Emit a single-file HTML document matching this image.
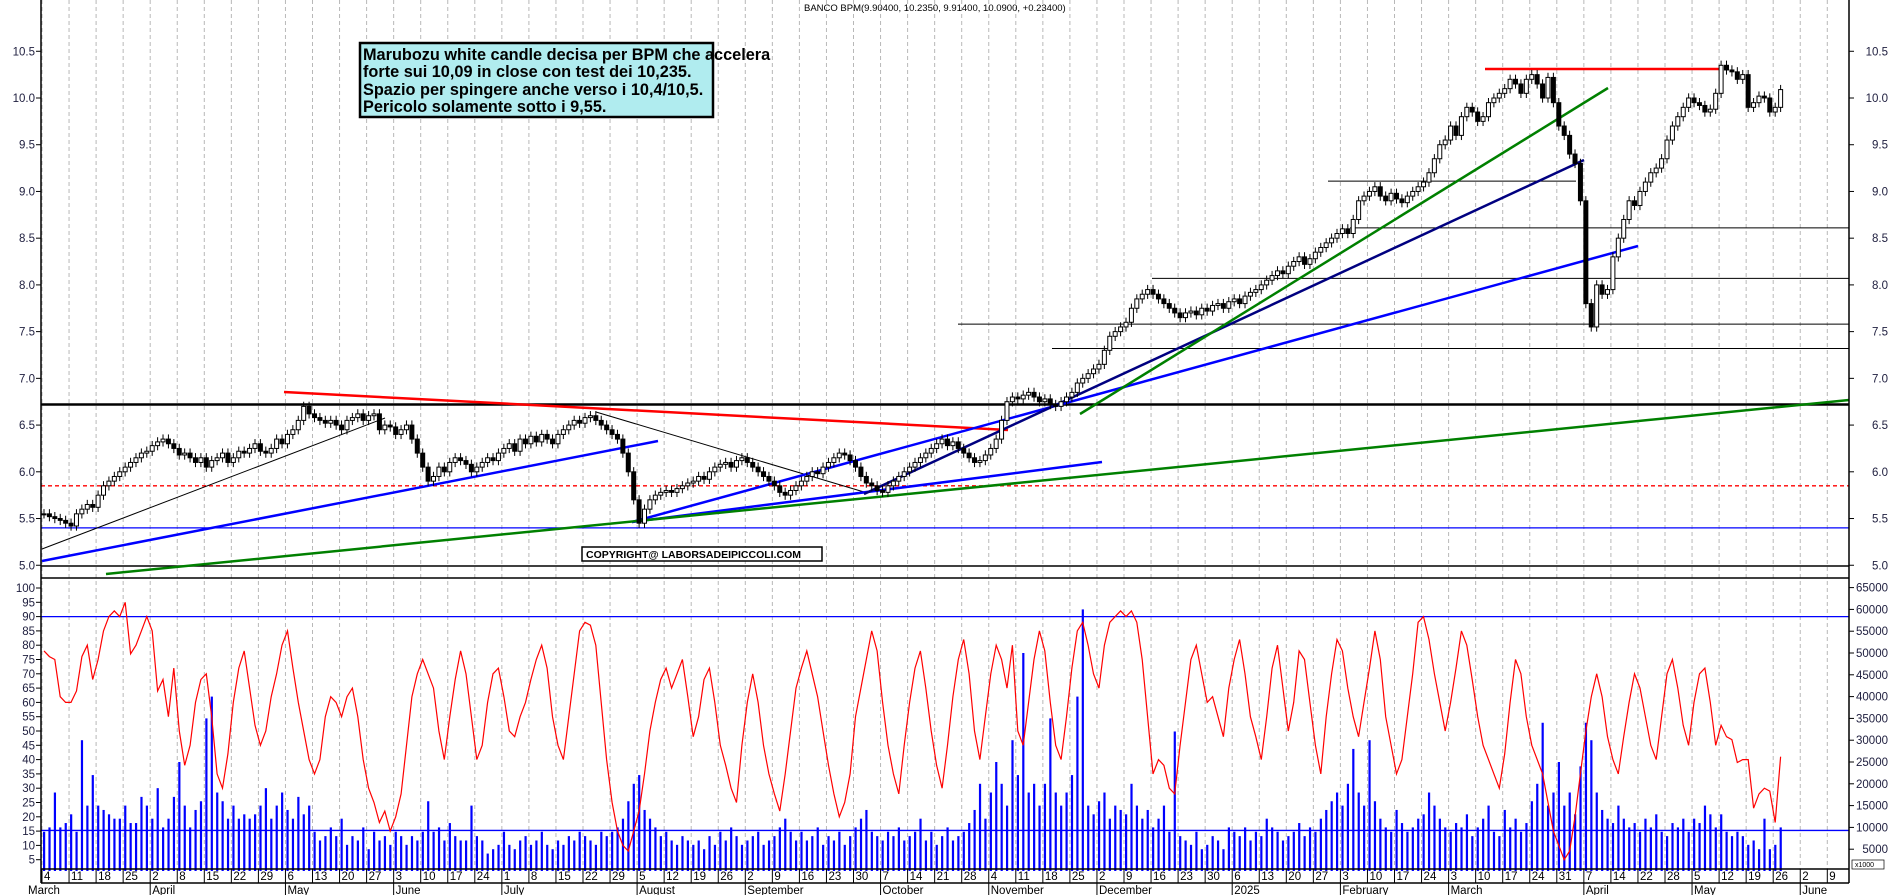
<!DOCTYPE html>
<html><head><meta charset="utf-8"><style>
html,body{margin:0;padding:0;background:#fff;}
svg{display:block;font-family:"Liberation Sans",sans-serif;}
</style></head><body>
<svg id="chart" width="1890" height="895" viewBox="0 0 1890 895" xmlns="http://www.w3.org/2000/svg">
<rect x="0" y="0" width="1890" height="895" fill="#fff"/>
<g id="grid"></g><g id="annot"></g><g id="vol"></g><g id="osc"></g><g id="candles"></g><g id="axes"></g>
<text x="804" y="11" font-size="9.5" fill="#000">BANCO BPM(9.90400, 10.2350, 9.91400, 10.0900, +0.23400)</text>
<rect x="360" y="43" width="353" height="74" fill="#b0ecef" stroke="#000" stroke-width="2.5"/>
<g font-size="16.3" font-weight="bold" fill="#000">
<text x="363" y="60">Marubozu white candle decisa per BPM che accelera</text>
<text x="363" y="77">forte sui 10,09 in close con test dei 10,235.</text>
<text x="363" y="95">Spazio per spingere anche verso i 10,4/10,5.</text>
<text x="363" y="112">Pericolo solamente sotto i 9,55.</text>
</g>
<rect x="582" y="547" width="240" height="14" fill="#fff" stroke="#000" stroke-width="1.5"/>
<text x="586" y="558" font-size="10.5" font-weight="bold" fill="#000">COPYRIGHT@ LABORSADEIPICCOLI.COM</text>
</svg>
<script>
const closes=[
5.55,5.52,5.50,5.48,5.45, 5.42,5.55,5.60,5.65,5.62, 5.75,5.85,5.90,5.95,6.00, 6.05,6.10,6.15,6.20,6.22,
6.28,6.32,6.35,6.30,6.25, 6.18,6.20,6.15,6.10,6.15, 6.05,6.12,6.15,6.20,6.10, 6.15,6.22,6.20,6.25,6.30,
6.22,6.20,6.25,6.35,6.30, 6.40,6.45,6.55,6.70,6.62, 6.58,6.55,6.52,6.55,6.50, 6.45,6.55,6.58,6.62,6.55,
6.60,6.62,6.45,6.50,6.48, 6.40,6.45,6.50,6.35,6.20, 6.05,5.90,5.95,6.05,6.00, 6.10,6.15,6.12,6.08,6.00,
6.05,6.10,6.15,6.12,6.20, 6.25,6.30,6.22,6.35,6.30, 6.38,6.32,6.40,6.35,6.30, 6.40,6.45,6.50,6.55,6.52,
6.58,6.60,6.55,6.50,6.45, 6.40,6.35,6.20,6.00,5.70, 5.45,5.60,5.70,5.75,5.78, 5.80,5.78,5.82,5.85,5.88,
5.90,5.95,5.92,6.00,6.05, 6.08,6.10,6.05,6.12,6.15, 6.10,6.05,6.00,5.95,5.90, 5.85,5.78,5.75,5.80,5.85,
5.90,5.95,6.00,5.98,6.05, 6.10,6.15,6.20,6.18,6.12, 6.05,5.95,5.88,5.85,5.80, 5.78,5.85,5.90,5.95,6.00,
6.05,6.10,6.15,6.20,6.25, 6.30,6.35,6.28,6.32,6.25, 6.20,6.15,6.10,6.12,6.18, 6.25,6.35,6.55,6.75,6.80,
6.78,6.82,6.85,6.80,6.75, 6.78,6.72,6.70,6.75,6.80, 6.85,6.95,7.00,7.05,7.10, 7.15,7.30,7.45,7.50,7.55,
7.60,7.75,7.85,7.90,7.95, 7.90,7.85,7.80,7.75,7.70, 7.65,7.70,7.72,7.68,7.75, 7.72,7.78,7.80,7.75,7.82,
7.85,7.80,7.88,7.92,7.95, 8.00,8.05,8.10,8.15,8.12, 8.20,8.25,8.30,8.22,8.28, 8.35,8.40,8.45,8.50,8.55,
8.60,8.55,8.70,8.90,8.95, 9.00,9.05,8.95,8.90,8.98, 8.92,8.88,8.95,9.00,9.05, 9.10,9.20,9.35,9.50,9.55,
9.70,9.60,9.80,9.90,9.85, 9.75,9.80,9.95,10.00,10.05, 10.10,10.20,10.15,10.05,10.20, 10.25,10.15,10.00,10.22,9.95,
9.70,9.60,9.40,9.30,8.90, 7.80,7.55,8.00,7.90,7.95, 8.30,8.50,8.70,8.90,8.85, 9.00,9.10,9.20,9.25,9.35,
9.55,9.70,9.80,9.90,10.00, 9.95,9.92,9.85,9.88,10.05, 10.35,10.30,10.28,10.20,10.25, 9.90,9.95,10.02,10.00,9.85,
9.90,10.09];
const oscValues=[
78,76,75,62,60, 60,64,76,80,68, 75,85,90,92,90, 95,77,80,85,90, 85,64,68,55,72, 50,38,45,60,68,
70,55,35,30,42, 60,72,78,65,52, 45,50,62,70,80, 85,72,60,50,40, 35,40,55,62,60, 55,62,65,55,40,
30,25,18,22,15, 20,28,45,62,70, 75,70,65,50,40, 55,68,78,70,55, 40,45,60,70,72, 62,50,48,55,60,
68,75,80,72,55, 45,40,55,70,85, 88,87,80,60,40, 25,15,10,8,15, 22,35,50,60,68, 72,65,70,75,62,
48,55,68,72,60, 45,38,30,25,45, 60,70,60,45,35, 28,22,35,50,65, 72,78,70,62,50, 38,28,20,25,35,
55,65,75,85,78, 60,45,35,28,45, 60,72,78,65,50, 38,30,45,62,75, 82,70,50,40,55, 70,80,75,65,80,
50,45,60,75,85, 78,60,45,40,55, 72,85,88,80,70, 65,80,88,90,92, 90,92,88,75,55, 35,40,38,30,28,
45,60,75,80,70, 60,62,55,48,65, 75,82,70,55,48, 40,55,72,80,65, 50,60,78,75,60, 45,35,55,70,82,
78,65,55,48,60, 72,85,75,55,45, 35,40,55,70,88, 90,82,70,60,50, 60,72,85,80,68, 55,45,40,35,30,
42,60,75,70,55, 45,40,35,25,15, 10,5,8,20,35, 50,62,70,62,48, 40,35,48,60,70, 65,55,45,40,55,
70,75,65,52,45, 60,70,72,60,45, 52,48,47,39,40, 40,23,28,30,29, 18,41];
const volumes=[
9,10,18,10,11, 13,9,30,15,22, 15,14,13,12,12, 15,11,11,17,15, 12,19,10,12,17, 25,15,10,14,16,
35,40,18,16,12, 15,12,13,12,13, 15,19,12,15,18, 14,12,17,13,15, 9,7,8,10,8, 12,6,8,7,10,
5,9,7,8,6, 9,8,6,8,7, 9,16,9,10,7, 11,8,7,7,15, 8,7,4,5,6, 9,6,5,7,8,
6,7,9,6,5, 7,6,8,7,9, 8,7,6,9,8, 9,10,12,16,20, 22,14,12,10,8, 9,7,6,8,7,
6,7,5,8,6, 9,7,10,8,6, 7,8,9,6,7, 8,10,12,9,7, 9,7,8,10,6, 8,7,9,6,8,
10,12,14,9,8, 7,9,8,10,7, 8,9,12,7,9, 6,8,10,7,8, 9,11,14,20,12, 18,25,20,15,30,
22,50,18,20,15, 20,35,18,15,18, 22,40,60,15,13, 16,18,12,15,14, 13,20,15,12,14, 10,12,15,9,32,
8,7,6,9,5, 6,8,7,5,10, 9,8,10,7,9, 8,12,10,9,7, 8,9,11,8,10, 9,12,14,16,18,
15,20,28,18,15, 30,16,12,10,9, 14,11,9,10,12, 13,18,15,12,10, 9,11,10,13,8, 10,12,15,9,8,
14,10,12,9,11, 16,20,34,15,18, 25,15,18,13,24, 34,30,18,14,12, 11,15,12,10,11, 9,12,10,13,9,
8,11,10,12,9, 12,11,15,13,10, 13,9,8,9,8, 6,7,5,12,5, 6,10];
const priceTicks=[5.0,5.5,6.0,6.5,7.0,7.5,8.0,8.5,9.0,9.5,10.0,10.5];
const oscTicks=[5,10,15,20,25,30,35,40,45,50,55,60,65,70,75,80,85,90,95,100];
const volTicks=[5000,10000,15000,20000,25000,30000,35000,40000,45000,50000,55000,60000,65000];
const monthNames=["January","February","March","April","May","June","July","August","September","October","November","December"];
const dateOverrides={"2024-4-1":2,"2025-4-21":22};

const NS="http://www.w3.org/2000/svg";
function mk(parent,tag,attrs){const e=document.createElementNS(NS,tag);for(const k in attrs)e.setAttribute(k,attrs[k]);document.getElementById(parent).appendChild(e);return e;}
const X0=41,X1=1849;
const xDay=i=>44+i*5.41;
const yPrice=p=>98-(p-10)*93.45;
const yOsc=v=>874-v*2.86;
const yVol=v=>871-v*4.36; // thousands

// grid + weekly ticks
const nWeeks=67;
const start=new Date(2024,2,4);
let prevMonth=2;
for(let k=0;k<nWeeks;k++){
  const tx=xDay(5*k)-2;
  if(tx>X1)break;
  const g=mk('grid','line',{x1:tx,y1:0,x2:tx,y2:869,stroke:'#b8b8b8','stroke-dasharray':'4,3','stroke-width':1});
  
  
  const d=new Date(start.getTime()+k*7*86400000);
  const key=d.getFullYear()+"-"+(d.getMonth()+1)+"-"+d.getDate();
  const lbl=dateOverrides[key]||d.getDate();
  const t=mk('axes','line',{x1:tx,y1:869,x2:tx,y2:883,stroke:'#000'});
  
  
  const tl=mk('axes','text',{x:tx+2,y:880,'font-size':11.5,fill:'#000'});tl.textContent=lbl;
  
  
  if(d.getMonth()!==prevMonth){
    prevMonth=d.getMonth();
    const ml=mk('axes','line',{x1:tx,y1:883,x2:tx,y2:895,stroke:'#000'});
    
    
    const mt=mk('axes','text',{x:tx+2,y:894,'font-size':11.5,fill:'#000'});
    mt.textContent=d.getMonth()===0?String(d.getFullYear()):monthNames[d.getMonth()];
    
    
  }
}
{const mt=mk('axes','text',{x:28,y:894,'font-size':11.5,fill:'#000'});mt.textContent='March';

}

// annotation lines (pixel coords of drawn trendlines)
function L(x1,y1,x2,y2,c,w,name,dash){const e=mk('annot','line',{x1,y1,x2,y2,stroke:c,'stroke-width':w});if(dash)e.setAttribute('stroke-dasharray',dash);

}
L(X0,yPrice(5.85),X1,yPrice(5.85),'#f00',1.3,'dashed-support-line','4,3');
L(X0,yPrice(5.4),X1,yPrice(5.4),'#0000ff',1.3,'horizontal-support-blue');
L(X0,yPrice(6.72),X1,yPrice(6.72),'#000',2.5,'horizontal-resistance-black');
L(X0,566,X1,566,'#000',1.5,'horizontal-line-low');
L(1328,yPrice(9.11),1576,yPrice(9.11),'#000',1,'level-9-1');
L(1350,yPrice(8.61),X1,yPrice(8.61),'#000',1,'level-8-6');
L(1152,yPrice(8.07),X1,yPrice(8.07),'#000',1,'level-8-07');
L(958,yPrice(7.58),X1,yPrice(7.58),'#000',1,'level-7-58');
L(1052,yPrice(7.32),X1,yPrice(7.32),'#000',1,'level-7-32');
L(1485,yPrice(10.31),1722,yPrice(10.31),'#f00',2.5,'resistance-10-3');
L(284,392,1008,430,'#f00',2.5,'descending-red-trendline');
L(42,549,385,418,'#000',1,'rising-thin-black-line');
L(596,412,864,492,'#000',1,'descending-thin-black-line');
L(42,561,658,441,'#0000ff',2.5,'blue-uptrend-1');
L(632,522,1102,462,'#0000ff',2.5,'blue-uptrend-2');
L(632,522,1638,246,'#0000ff',2.5,'blue-uptrend-3');
L(864,494,1584,160,'#000080',2.5,'navy-uptrend');
L(106,574,X1,400,'#008000',2.5,'green-long-uptrend');
L(1080,414,1608,88,'#008000',2.5,'green-steep-uptrend');

// candles
for(let i=0;i<closes.length;i++){
  const c=closes[i],o=i>0?closes[i-1]:c;
  const hi=Math.max(o,c)+0.05,lo=Math.min(o,c)-0.05;
  const x=xDay(i);
  const w=mk('candles','line',{x1:x,y1:yPrice(hi),x2:x,y2:yPrice(lo),stroke:'#000','stroke-width':1});
  
  
  const top=yPrice(Math.max(o,c)),bot=yPrice(Math.min(o,c));
  const b=mk('candles','rect',{x:x-2,y:top,width:4,height:Math.max(1,bot-top),fill:c>=o?'#fff':'#000',stroke:'#000','stroke-width':1});
  
  
}
// volume bars
for(let i=0;i<volumes.length;i++){
  const x=xDay(i);
  const r=mk('vol','rect',{x:x-1,y:yVol(volumes[i]),width:2.2,height:871-yVol(volumes[i]),fill:'#0000ff'});
  
  
}
L(X0,yVol(9.3),X1,yVol(9.3),'#0000ff',1.3,'volume-average-line');
L(X0,yOsc(90),X1,yOsc(90),'#0000ff',1.3,'oscillator-90-line');
{let d='';oscValues.forEach((v,i)=>{d+=(i?'L':'M')+xDay(i).toFixed(1)+','+yOsc(v).toFixed(1);});
const p=mk('osc','path',{d,fill:'none',stroke:'#f00','stroke-width':1.2});

}

// axes frame
function A(x1,y1,x2,y2,name){const e=mk('axes','line',{x1,y1,x2,y2,stroke:'#000','stroke-width':1.5});

}
A(X0,0,X0,883,'left-axis');A(X1,0,X1,883,'right-axis');
A(X0,578,X1,578,'panel-separator');A(X0,869,X1,869,'x-axis-line');A(X0,883,X1,883,'month-row-line');
priceTicks.forEach(p=>{
  const y=yPrice(p);
  ['l','r'].forEach(s=>{
    const t=mk('axes','text',{x:s==='l'?35:1888,y:y+4,'font-size':11.5,'text-anchor':'end',fill:'#202040'});t.textContent=p.toFixed(1);
    
    
    const tk=mk('axes','line',{x1:s==='l'?X0-5:X1,y1:y,x2:s==='l'?X0:X1+5,y2:y,stroke:'#000'});
    
    
  });
});
oscTicks.forEach(v=>{
  const y=yOsc(v);
  const t=mk('axes','text',{x:35,y:y+4,'font-size':11.5,'text-anchor':'end',fill:'#202040'});t.textContent=v;
  
  
  const tk=mk('axes','line',{x1:X0-5,y1:y,x2:X0,y2:y,stroke:'#000'});
  
  
});
volTicks.forEach(v=>{
  const y=yVol(v/1000);
  const t=mk('axes','text',{x:1888,y:y+4,'font-size':11.5,'text-anchor':'end',fill:'#202040'});t.textContent=v;
  
  
  const tk=mk('axes','line',{x1:X1,y1:y,x2:X1+5,y2:y,stroke:'#000'});
  
  
});
{const r=mk('axes','rect',{x:1852,y:860,width:32,height:9,fill:'#fff',stroke:'#000','stroke-width':0.7});


const t=mk('axes','text',{x:1855,y:867,'font-size':7,fill:'#000'});t.textContent='x1000';

}
</script>
</body></html>
